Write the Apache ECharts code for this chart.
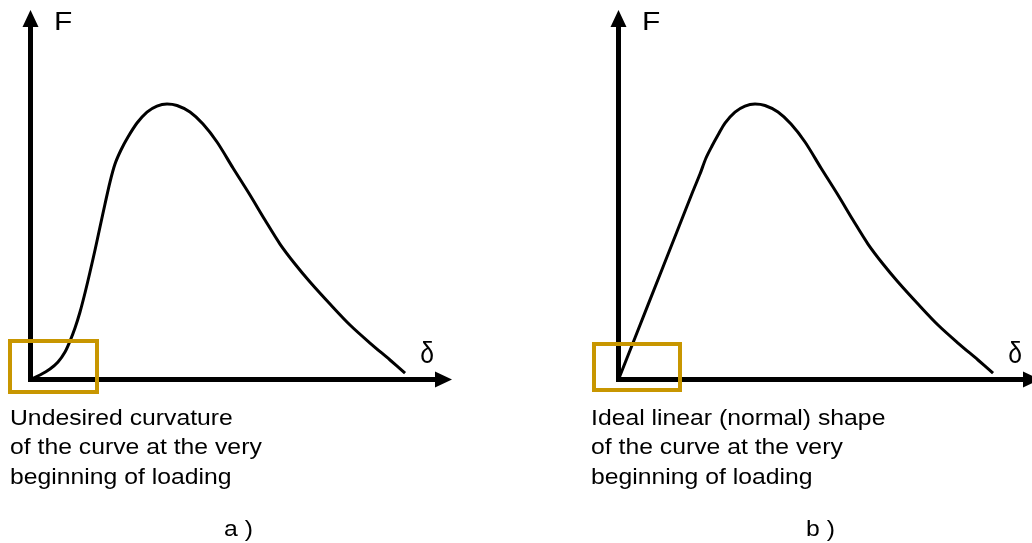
<!DOCTYPE html>
<html>
<head>
<meta charset="utf-8">
<title>F - delta</title>
<script src="https://cdn.jsdelivr.net/npm/echarts@6/dist/echarts.min.js"></script>
<style>
html, body { margin: 0; padding: 0; background: #fff; }
#main { width: 1032px; height: 543px; }
</style>
</head>
<body>
<div id="main"></div>
<script>
// a) curve with the unwanted toe at the start
var deltaA = [0, 2.35, 4.82, 6.80, 8.53, 9.77, 11.00, 12.24, 13.47, 14.71, 15.95, 17.18, 18.42, 19.65, 20.89, 22.37, 24.10, 26.33, 28.80, 31.27, 33.75, 36.22, 39.43, 42.65, 46.11, 50.06, 54.26, 57.97, 61.68, 65.39, 69.10, 74.04, 78.99, 83.93, 88.88, 92.59];
var forceA = [0, 1.28, 2.98, 4.96, 7.80, 10.92, 14.61, 19.15, 24.54, 30.49, 36.73, 43.26, 49.78, 56.02, 61.13, 65.10, 68.78, 72.76, 75.88, 77.58, 78.15, 77.72, 75.88, 72.47, 67.37, 60.00, 52.33, 45.24, 38.43, 32.76, 27.66, 21.42, 15.46, 10.35, 5.53, 1.84];
// b) curve with the linear start
var deltaB = [0, 7.29, 14.71, 18.42, 20.15, 21.63, 23.11, 24.60, 26.33, 28.80, 31.27, 33.75, 36.22, 39.43, 42.65, 46.11, 50.06, 54.26, 57.97, 61.68, 65.39, 69.10, 74.04, 78.99, 83.93, 88.88, 92.59];
var forceB = [0, 21.16, 42.69, 53.47, 58.29, 62.83, 66.23, 69.35, 72.76, 75.88, 77.58, 78.15, 77.72, 75.88, 72.47, 67.37, 60.00, 52.33, 45.24, 38.43, 32.76, 27.66, 21.42, 15.46, 10.35, 5.53, 1.84];

var xName = 'δ';
var yName = 'F';
var captionA = 'Undesired curvature\nof the curve at the very\nbeginning of loading';
var captionB = 'Ideal linear (normal) shape\nof the curve at the very\nbeginning of loading';
var labelA = 'a )';
var labelB = 'b )';

var FONT = '"Liberation Sans", Arial, Helvetica, sans-serif';
var GOLD = '#c89600';

function pairs(xs, ys){
	var out = [];
	for (var i = 0; i < xs.length; i++) {
		out.push([xs[i], ys[i]]);
	}
	return out;
}

function axisFor(idx){
	return {
		gridIndex: idx,
		type: 'value',
		min: 0,
		max: 100,
		axisLine: {
			show: true,
			symbol: ['none', 'triangle'],
			symbolSize: [16, 17],
			symbolOffset: [0, 8.5],
			lineStyle: { color: '#000', width: 5, cap: 'square' }
		},
		axisTick: { show: false },
		axisLabel: { show: false },
		splitLine: { show: false }
	};
}

function curve(idx, data){
	return {
		type: 'line',
		xAxisIndex: idx,
		yAxisIndex: idx,
		data: data,
		smooth: 0.3,
		showSymbol: false,
		silent: true,
		lineStyle: { color: '#000', width: 3 },
		z: 1
	};
}

function txt(x, y, s, size, opts){
	var o = opts || {};
	return {
		type: 'text',
		x: x,
		y: y,
		scaleX: o.scaleX || 1.1,
		silent: true,
		style: {
			text: s,
			font: size + 'px ' + FONT,
			fill: '#000',
			align: o.align || 'left',
			verticalAlign: o.verticalAlign || 'middle',
			lineHeight: o.lineHeight
		}
	};
}

var myChart = echarts.init(document.getElementById('main'), null, { renderer: 'canvas' });

var option = {
	animation: false,
	backgroundColor: '#fff',
	grid: [
		{ left: 30.5, top: 27, width: 404.5, height: 352.5 },
		{ left: 618.5, top: 27, width: 404.5, height: 352.5 }
	],
	xAxis: [axisFor(0), axisFor(1)],
	yAxis: [axisFor(0), axisFor(1)],
	series: [
		curve(0, pairs(deltaA, forceA)),
		curve(1, pairs(deltaB, forceB))
	],
	graphic: [
		// highlight boxes round the origin
		{ type: 'rect', silent: true, z: 10, shape: { x: 10, y: 341, width: 87, height: 51 }, style: { fill: 'none', stroke: GOLD, lineWidth: 4 } },
		{ type: 'rect', silent: true, z: 10, shape: { x: 594, y: 344, width: 86, height: 46 }, style: { fill: 'none', stroke: GOLD, lineWidth: 4 } },
		// axis names
		txt(54, 23, yName, 26, { scaleX: 1.15 }),
		txt(642, 23, yName, 26, { scaleX: 1.15 }),
		txt(427, 355, xName, 29, { align: 'center', scaleX: 0.85 }),
		txt(1015, 355, xName, 29, { align: 'center', scaleX: 0.85 }),
		// captions
		txt(10, 404, captionA, 22.5, { verticalAlign: 'top', lineHeight: 29.5 }),
		txt(591, 404, captionB, 22.5, { verticalAlign: 'top', lineHeight: 29.5 }),
		txt(224, 529.5, labelA, 22.5),
		txt(806, 529.5, labelB, 22.5)
	]
};

myChart.setOption(option);
</script>
</body>
</html>
